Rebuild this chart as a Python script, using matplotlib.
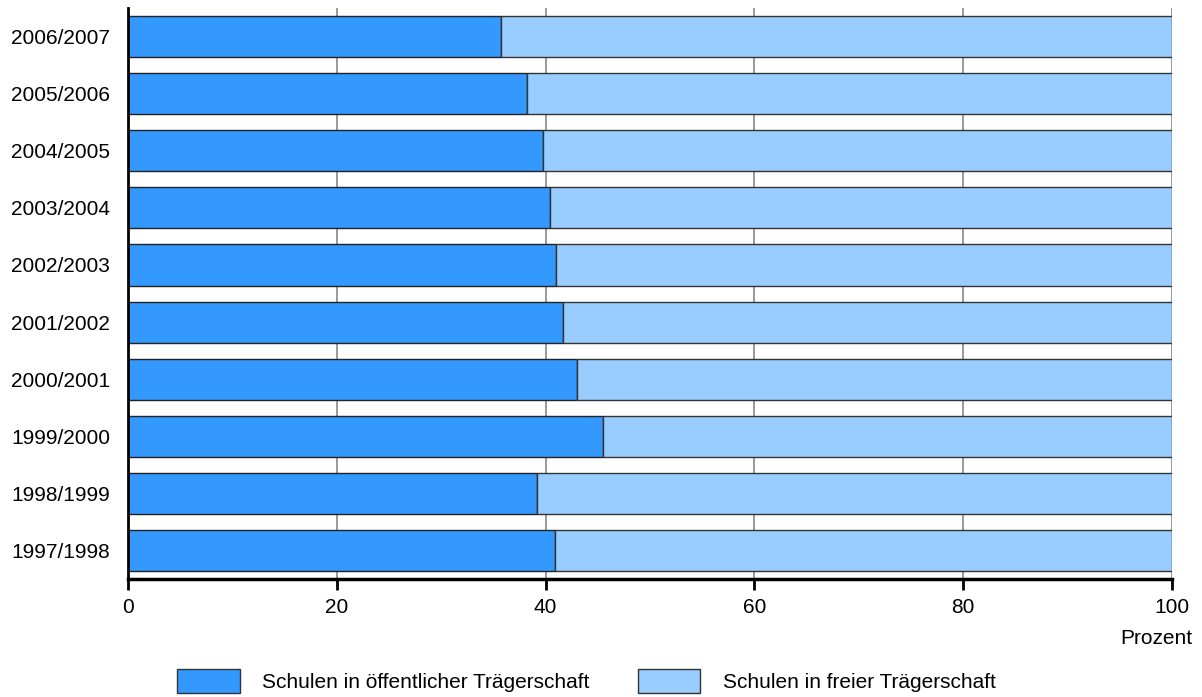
import matplotlib.pyplot as plt
from matplotlib.patches import Patch

plt.rcParams['font.family'] = ['Liberation Sans', 'DejaVu Sans']

# Schuljahre, von unten nach oben
jahre = ["1997/1998", "1998/1999", "1999/2000", "2000/2001", "2001/2002",
         "2002/2003", "2003/2004", "2004/2005", "2005/2006", "2006/2007"]
# Anteil Schulen in oeffentlicher Traegerschaft (Prozent)
oeffentlich = [40.9, 39.2, 45.5, 43.0, 41.7, 41.0, 40.4, 39.8, 38.2, 35.7]
# Rest = freie Traegerschaft
frei = [100 - v for v in oeffentlich]

c_oeff = "#3399FF"
c_frei = "#99CCFF"

fig = plt.figure(figsize=(12.02, 6.97), dpi=100)
ax = fig.add_axes([0.1065, 0.1693, 0.975 - 0.1065, 0.9885 - 0.1693])

y = range(len(jahre))
ax.barh(y, oeffentlich, height=0.72, color=c_oeff, edgecolor="#222222", linewidth=1, zorder=2)
ax.barh(y, frei, left=oeffentlich, height=0.72, color=c_frei, edgecolor="#333333", linewidth=1, zorder=2)

ax.set_xlim(0, 100)
ax.set_ylim(-0.5, 9.5)
ax.set_yticks(list(y))
ax.set_yticklabels(jahre, fontsize=15)
ax.tick_params(axis="y", length=0, pad=13)
ax.set_xticks([0, 20, 40, 60, 80, 100])
ax.set_xticklabels(["0", "20", "40", "60", "80", "100"], fontsize=15)
ax.tick_params(axis="x", length=8, width=2, pad=6, direction="out")

for v in [20, 40, 60, 80, 100]:
    ax.axvline(v, color="#888888", linewidth=1.2, zorder=1)

ax.spines["top"].set_visible(False)
ax.spines["right"].set_visible(False)
ax.spines["bottom"].set_linewidth(2.5)
ax.spines["left"].set_linewidth(2)

fig.text(0.992, 1 - 639 / 697, "Prozent", fontsize=15, ha="right", va="center")

handles = [Patch(facecolor=c_oeff, edgecolor="#333333", label="Schulen in öffentlicher Trägerschaft"),
           Patch(facecolor=c_frei, edgecolor="#333333", label="Schulen in freier Trägerschaft")]
fig.legend(handles=handles, loc="center", bbox_to_anchor=(0.488, 0.023), ncol=2,
           frameon=False, fontsize=15, handlelength=3.0, handleheight=1.4,
           handletextpad=1.1, columnspacing=2.3)

fig.savefig("out.png", dpi=100)
